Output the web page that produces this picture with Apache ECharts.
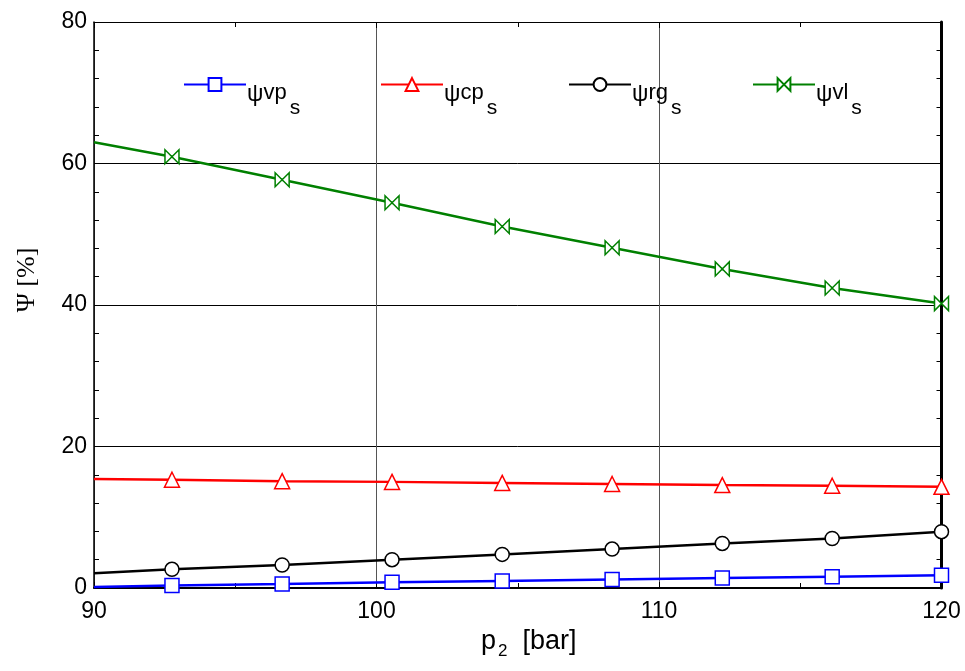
<!DOCTYPE html>
<html>
<head>
<meta charset="utf-8">
<script src="https://cdn.jsdelivr.net/npm/echarts@6/dist/echarts.min.js"></script>
<style>html,body{margin:0;padding:0;background:#fff}#c{width:965px;height:671px}</style>
</head>
<body>
<div id="c"></div>
<script>
const pressure = [90, 92.76, 96.66, 100.55, 104.45, 108.34, 112.24, 116.13, 120];
const psiVp = [0.15, 0.35, 0.55, 0.8, 1.0, 1.2, 1.4, 1.6, 1.8];
const psiCp = [15.4, 15.3, 15.1, 15.0, 14.85, 14.7, 14.55, 14.45, 14.3];
const psiRg = [2.1, 2.64, 3.25, 4.0, 4.75, 5.5, 6.3, 7.0, 7.96];
const psiVl = [63.0, 60.95, 57.7, 54.45, 51.1, 48.1, 45.1, 42.4, 40.2];
const seriesNames = ['vp', 'cp', 'rg', 'vl'];
const xTicks = [90, 100, 110, 120];
const yTicks = [0, 20, 40, 60, 80];

const bowtie = 'path://M0,0 L0,10 L10,0 L10,10 Z';
function mk(vals) {
  return pressure.map((x, i) => i === 0 ? {value: [x, vals[i]], symbol: 'none'} : [x, vals[i]]);
}
function ser(name, vals, color, symbol, size) {
  return {
    name: name, type: 'line', data: mk(vals), color: color,
    symbol: symbol, symbolSize: size,
    lineStyle: {color: color, width: 2.5},
    itemStyle: {color: '#fff', borderColor: color, borderWidth: 1.5},
    emphasis: {disabled: true}, animation: false
  };
}
const rich = {
  a: {fontFamily: 'Liberation Sans', fontSize: 23, lineHeight: 23, color: '#000', verticalAlign: 'top', padding: [10, 0, 0, 0]},
  b: {fontFamily: 'Liberation Sans', fontSize: 22, lineHeight: 22, color: '#000', verticalAlign: 'top', padding: [9, 0, 0, 0]},
  c: {fontFamily: 'Liberation Sans', fontSize: 21, lineHeight: 21, color: '#000', verticalAlign: 'top', padding: [25, 0, 17, 3]}
};
function leg(name, left) {
  return {
    data: [name], left: left - 5, top: 68, itemWidth: 62, itemHeight: 16, itemGap: 0,
    selectedMode: false,
    formatter: (n) => '{a|ψ}{b|' + n + '}{c|s}',
    textStyle: {rich: rich, padding: [0, 0, 0, -4]}
  };
}
const chart = echarts.init(document.getElementById('c'), null, {renderer: 'canvas'});
chart.setOption({
  backgroundColor: '#fff',
  animation: false,
  grid: {left: 94, right: 23.5, top: 22, bottom: 83, outerBoundsMode: 'none', containLabel: false},
  legend: [leg('vp', 183), leg('cp', 380), leg('rg', 568), leg('vl', 752)],
  xAxis: [{
    type: 'value', min: xTicks[0], max: xTicks[xTicks.length - 1], interval: 10,
    name: '{a|p}{b|2}{a|  [bar]}', nameLocation: 'middle', nameGap: 19,
    nameTextStyle: {padding: [0, 0, 0, 22], rich: {
      a: {fontFamily: 'Liberation Sans', fontSize: 27, lineHeight: 27, color: '#000', verticalAlign: 'top'},
      b: {fontFamily: 'Liberation Sans', fontSize: 17, lineHeight: 17, color: '#000', verticalAlign: 'top', padding: [15, 0, 0, 2]}
    }},
    axisLine: {onZero: false, lineStyle: {color: '#000', width: 2}},
    axisTick: {show: true, inside: true, length: 6, lineStyle: {color: '#000'}},
    minorTick: {show: true, splitNumber: 2, length: 5, lineStyle: {color: '#000'}},
    axisLabel: {fontFamily: 'Liberation Sans', fontSize: 23, color: '#000', margin: 12},
    splitLine: {show: true, lineStyle: {color: '#555', width: 1}}
  }, {
    type: 'value', position: 'top', min: 90, max: 120, interval: 10,
    axisLine: {onZero: false, lineStyle: {color: '#000', width: 1}},
    axisTick: {show: true, inside: true, length: 6, lineStyle: {color: '#000'}},
    minorTick: {show: true, splitNumber: 2, length: 5, lineStyle: {color: '#000'}},
    axisLabel: {show: false}, splitLine: {show: false}
  }],
  yAxis: [{
    type: 'value', min: yTicks[0], max: yTicks[yTicks.length - 1], interval: 20,
    name: 'Ψ [%]', nameLocation: 'middle', nameGap: 54, nameRotate: 90,
    nameTextStyle: {fontFamily: 'Liberation Serif', fontSize: 26, color: '#000', padding: [0, 0, 0, 50]},
    axisLine: {onZero: false, lineStyle: {color: '#000', width: 1.5}},
    axisTick: {show: true, inside: true, length: 6, lineStyle: {color: '#000'}},
    minorTick: {show: true, splitNumber: 5, length: 5, lineStyle: {color: '#000'}},
    axisLabel: {fontFamily: 'Liberation Sans', fontSize: 23, color: '#000', margin: 7},
    splitLine: {show: true, lineStyle: {color: '#000', width: 1}}
  }, {
    type: 'value', position: 'right', min: 0, max: 80, interval: 20,
    axisLine: {onZero: false, lineStyle: {color: '#000', width: 3}},
    axisTick: {show: true, inside: true, length: 6, lineStyle: {color: '#000'}},
    minorTick: {show: true, splitNumber: 5, length: 5, lineStyle: {color: '#000'}},
    axisLabel: {show: false}, splitLine: {show: false}
  }],
  series: [
    ser(seriesNames[0], psiVp, '#0000ff', 'rect', 14),
    ser(seriesNames[1], psiCp, '#ff0000', 'triangle', 15),
    ser(seriesNames[2], psiRg, '#000000', 'circle', 14),
    ser(seriesNames[3], psiVl, '#008000', bowtie, 14)
  ]
});
</script>
</body>
</html>
